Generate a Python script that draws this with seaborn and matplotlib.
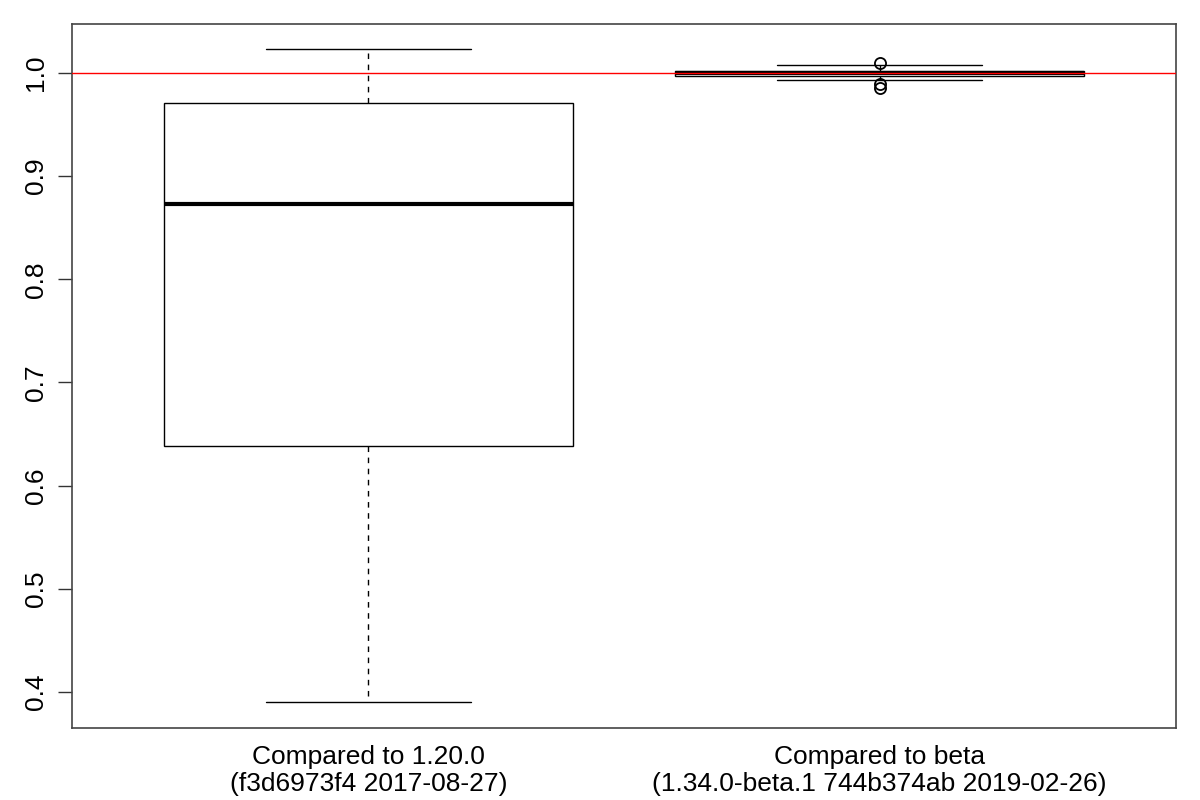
import matplotlib
matplotlib.use("Agg")
import matplotlib.pyplot as plt
import seaborn as sns
import pandas as pd

# ratio values (chosen so the box stats match)
group_labels = ["Compared to 1.20.0\n(f3d6973f4 2017-08-27)",
                "Compared to beta\n(1.34.0-beta.1 744b374ab 2019-02-26)"]
old_release = [0.3905, 0.6386, 0.873, 0.971, 1.0233]
beta_release = [0.985, 0.989, 0.9929, 0.9969, 0.9985, 0.9995, 1.0003,
                1.0008, 1.0012, 1.0017, 1.0040, 1.0078, 1.0100]
yticks = [0.4, 0.5, 0.6, 0.7, 0.8, 0.9, 1.0]

df = pd.DataFrame({
    "group": [group_labels[0]] * len(old_release) + [group_labels[1]] * len(beta_release),
    "ratio": old_release + beta_release,
})

sns.set_style("white")
plt.rcParams['font.family'] = ['Liberation Sans', 'DejaVu Sans']
plt.rcParams['text.color'] = 'black'
plt.rcParams['xtick.color'] = 'black'
plt.rcParams['ytick.color'] = 'black'

fig = plt.figure(figsize=(12, 8), dpi=100)
ax = fig.add_axes([0.06, 0.09, 0.92, 0.88])

sns.boxplot(data=df, x="group", y="ratio", order=group_labels, ax=ax,
            color="white", linecolor="black", linewidth=1, width=0.8, whis=1.5,
            medianprops=dict(color="black", linewidth=3),
            whiskerprops=dict(color="black", linestyle=(0, (4, 4)), linewidth=1),
            capprops=dict(color="black", linewidth=1),
            flierprops=dict(marker="o", markerfacecolor="none", markeredgecolor="black",
                            markersize=8, markeredgewidth=1.3))

ax.axhline(1.0, color="red", linewidth=1, zorder=10)

ax.set_xlim(-0.58, 1.58)
ax.set_ylim(0.365, 1.0475)
ax.set_yticks(yticks)
ax.set_yticklabels([f"{t:.1f}" for t in yticks], rotation=90, va="center", fontsize=19)
ax.tick_params(axis="y", length=10, width=1, color="#333333", pad=7, left=True)
ax.tick_params(axis="x", length=0, pad=12, labelsize=19)
ax.set_xlabel("")
ax.set_ylabel("")
for s in ax.spines.values():
    s.set_visible(True)
    s.set_color("#444444")
    s.set_linewidth(1.2)

fig.savefig("out.png", dpi=100)
